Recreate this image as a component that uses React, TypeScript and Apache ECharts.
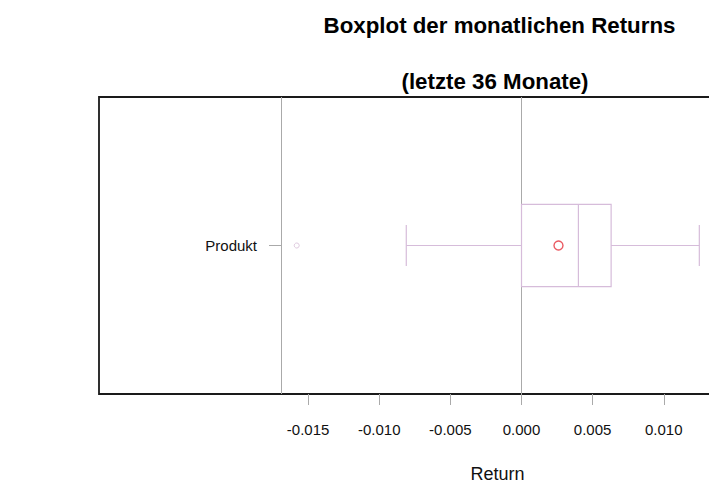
import React, { useEffect, useRef } from "react";
import * as echarts from "echarts";

// ---- data ----
const categories = ["Produkt"];
// [lower whisker, Q1, median, Q3, upper whisker]
const boxStats = [[-0.0081, 0.0, 0.004, 0.0063, 0.0125]];
const means = [0.0026];
const outliers = [[-0.0158, 0]]; // [value, category index]
const tickValues = [-0.015, -0.01, -0.005, 0.0, 0.005, 0.01];
const refLines = [-0.0169, 0.0]; // value-axis positions of the two vertical gray lines
const titleLine1 = "Boxplot der monatlichen Returns";
const titleLine2 = "(letzte 36 Monate)";
const xTitle = "Return";

const FONT = "'Liberation Sans', Arial, Helvetica, sans-serif";
const BOX_COLOR = "#d6bcda";
const GRAY = "#aaaaaa";

export default function App() {
  const ref = useRef<HTMLDivElement>(null);

  useEffect(() => {
    if (!ref.current) return;
    const chart = echarts.init(ref.current, null, { renderer: "svg" });

    const boxData = boxStats.map((s, i) => [i, ...s]);

    const option: any = {
      animation: false,
      backgroundColor: "#ffffff",
      textStyle: { fontFamily: FONT },
      grid: {
        left: 99,
        top: 97,
        height: 297,
        width: 643,
        containLabel: false,
        outerBoundsMode: "none",
        show: true,
        borderColor: "#1a1a1a",
        borderWidth: 1.8,
        backgroundColor: "transparent",
      },
      xAxis: {
        type: "value",
        min: -0.0297,
        max: 0.0155,
        axisLine: { show: false, onZero: false },
        splitLine: { show: false },
        axisTick: {
          show: true,
          length: 11,
          customValues: tickValues,
          lineStyle: { color: GRAY, width: 1 },
        },
        axisLabel: {
          customValues: tickValues,
          formatter: (v: number) => v.toFixed(3),
          fontSize: 15,
          color: "#111",
          fontFamily: FONT,
          margin: 28,
        },
      },
      yAxis: {
        type: "category",
        data: categories,
        offset: -182,
        axisLine: { show: false, onZero: false },
        axisTick: {
          show: true,
          alignWithLabel: true,
          length: 12,
          lineStyle: { color: GRAY, width: 1 },
        },
        axisLabel: {
          fontSize: 15,
          color: "#111",
          fontFamily: FONT,
          margin: 24,
        },
        splitLine: { show: false },
      },
      series: [
        {
          type: "custom",
          name: "box",
          data: boxData,
          encode: { x: [1, 2, 3, 4, 5], y: 0 },
          renderItem: (params: any, api: any) => {
            const cat = api.value(0);
            const lo = api.coord([api.value(1), cat]);
            const q1 = api.coord([api.value(2), cat]);
            const med = api.coord([api.value(3), cat]);
            const q3 = api.coord([api.value(4), cat]);
            const hi = api.coord([api.value(5), cat]);
            const band = api.size([0, 1])[1];
            const half = band * 0.1388;
            const capHalf = half / 2;
            const cy = q1[1];
            const style = { stroke: BOX_COLOR, lineWidth: 1.2, fill: "none" };
            return {
              type: "group",
              children: [
                {
                  type: "rect",
                  shape: { x: q1[0], y: cy - half, width: q3[0] - q1[0], height: half * 2 },
                  style: { ...style },
                },
                {
                  type: "line",
                  shape: { x1: med[0], y1: cy - half, x2: med[0], y2: cy + half },
                  style: { ...style },
                },
                {
                  type: "line",
                  shape: { x1: lo[0], y1: cy, x2: q1[0], y2: cy },
                  style: { ...style },
                },
                {
                  type: "line",
                  shape: { x1: q3[0], y1: cy, x2: hi[0], y2: cy },
                  style: { ...style },
                },
                {
                  type: "line",
                  shape: { x1: lo[0], y1: cy - capHalf, x2: lo[0], y2: cy + capHalf },
                  style: { ...style },
                },
                {
                  type: "line",
                  shape: { x1: hi[0], y1: cy - capHalf, x2: hi[0], y2: cy + capHalf },
                  style: { ...style },
                },
              ],
            };
          },
          z: 3,
        },
        {
          type: "scatter",
          name: "outliers",
          data: outliers,
          symbol: "circle",
          symbolSize: 5,
          itemStyle: { color: "#ffffff", borderColor: "#d6bcd6", borderWidth: 1 },
          z: 4,
          markLine: {
            silent: true,
            precision: 6,
            symbol: ["none", "none"],
            label: { show: false },
            lineStyle: { color: GRAY, type: "solid", width: 1 },
            data: refLines.map((v) => ({ xAxis: v })),
            z: 1,
          },
        },
        {
          type: "scatter",
          name: "mean",
          data: means.map((m, i) => [m, i]),
          symbol: "circle",
          symbolSize: 9,
          itemStyle: { color: "#ffffff", borderColor: "#e5323c", borderWidth: 1.4 },
          z: 5,
        },
      ],
      graphic: [
        {
          type: "text",
          x: 499.5,
          y: 25,
          style: {
            text: titleLine1,
            fontSize: 22.3,
            fontWeight: "bold",
            fontFamily: FONT,
            fill: "#000",
            textAlign: "center",
            textVerticalAlign: "middle",
          },
        },
        {
          type: "text",
          x: 495,
          y: 81,
          style: {
            text: titleLine2,
            fontSize: 22.3,
            fontWeight: "bold",
            fontFamily: FONT,
            fill: "#000",
            textAlign: "center",
            textVerticalAlign: "middle",
          },
        },
        {
          type: "text",
          x: 497.5,
          y: 474,
          style: {
            text: xTitle,
            fontSize: 18,
            fontFamily: FONT,
            fill: "#111",
            textAlign: "center",
            textVerticalAlign: "middle",
          },
        },
      ],
    };

    chart.setOption(option);
    return () => chart.dispose();
  }, []);

  return (
    <div
      ref={ref}
      style={{ position: "fixed", left: 0, top: 0, width: 709, height: 493, background: "#fff" }}
    />
  );
}
